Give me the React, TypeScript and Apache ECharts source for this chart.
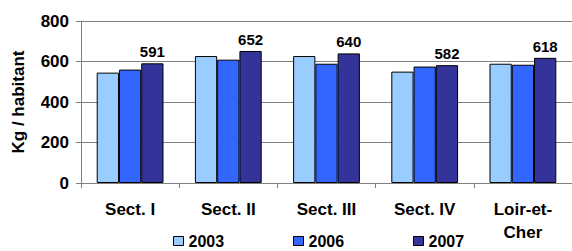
import React, { useEffect, useRef } from "react";
import * as echarts from "echarts";

const categories = ["Sect. I", "Sect. II", "Sect. III", "Sect. IV", "Loir-et-\nCher"];
const seriesNames = ["2003", "2006", "2007"];
const values2003 = [545, 627, 627, 550, 589];
const values2006 = [560, 609, 589, 575, 584];
const values2007 = [591, 652, 640, 582, 618];
const yTicks = [0, 200, 400, 600, 800];

const colors = ["#99CCFF", "#3366FF", "#333399"];
const FONT = "'Liberation Sans', Arial, sans-serif";

export default function App() {
  const ref = useRef<HTMLDivElement>(null);
  useEffect(() => {
    if (!ref.current) return;
    const chart = echarts.init(ref.current, null, { renderer: "svg" });
    const allValues = [values2003, values2006, values2007];
    const legendLefts = [173, 293, 413];
    chart.setOption({
      animation: false,
      backgroundColor: "#ffffff",
      textStyle: { fontFamily: FONT },
      grid: { left: 81, right: -9, top: 21, bottom: 68, containLabel: false },
      legend: seriesNames.map((n, i) => ({
        data: [n],
        left: legendLefts[i],
        top: 233,
        itemWidth: 10,
        itemHeight: 9,
        itemGap: 0,
        padding: 0,
        icon: "rect",
        itemStyle: { borderColor: "#000", borderWidth: 1 },
        textStyle: {
          fontFamily: FONT,
          fontWeight: "bold",
          fontSize: 16,
          lineHeight: 16,
          color: "#000",
        },
      })),
      xAxis: {
        type: "category",
        data: categories,
        boundaryGap: true,
        axisLine: { lineStyle: { color: "#808080", width: 1 } },
        axisTick: { show: true, length: 5, lineStyle: { color: "#808080" } },
        axisLabel: {
          interval: 0,
          margin: 15,
          fontFamily: FONT,
          fontWeight: "bold",
          fontSize: 17,
          lineHeight: 23,
          color: "#000",
        },
      },
      yAxis: {
        type: "value",
        min: yTicks[0],
        max: yTicks[yTicks.length - 1],
        interval: 200,
        name: "Kg / habitant",
        nameLocation: "middle",
        nameGap: 54,
        nameTextStyle: { fontFamily: FONT, fontWeight: "bold", fontSize: 17, color: "#000" },
        axisLine: { show: true, lineStyle: { color: "#808080", width: 1 } },
        axisTick: { show: true, length: 5, lineStyle: { color: "#808080" } },
        axisLabel: { margin: 12, fontFamily: FONT, fontWeight: "bold", fontSize: 17, color: "#000" },
        splitLine: { show: true, lineStyle: { color: "#808080", width: 1 } },
      },
      series: seriesNames.map((n, i) => ({
        name: n,
        type: "bar",
        data: allValues[i],
        barGap: "0%",
        barCategoryGap: "32%",
        itemStyle: { color: colors[i], borderColor: "#000", borderWidth: 1 },
        label:
          i === 2
            ? {
                show: true,
                position: "top",
                distance: 4,
                fontFamily: FONT,
                fontWeight: "bold",
                fontSize: 15,
                color: "#000",
              }
            : { show: false },
      })),
    });
    return () => chart.dispose();
  }, []);
  return (
    <div
      ref={ref}
      style={{ position: "fixed", left: 0, top: 0, width: 572, height: 251, background: "#fff" }}
    />
  );
}
